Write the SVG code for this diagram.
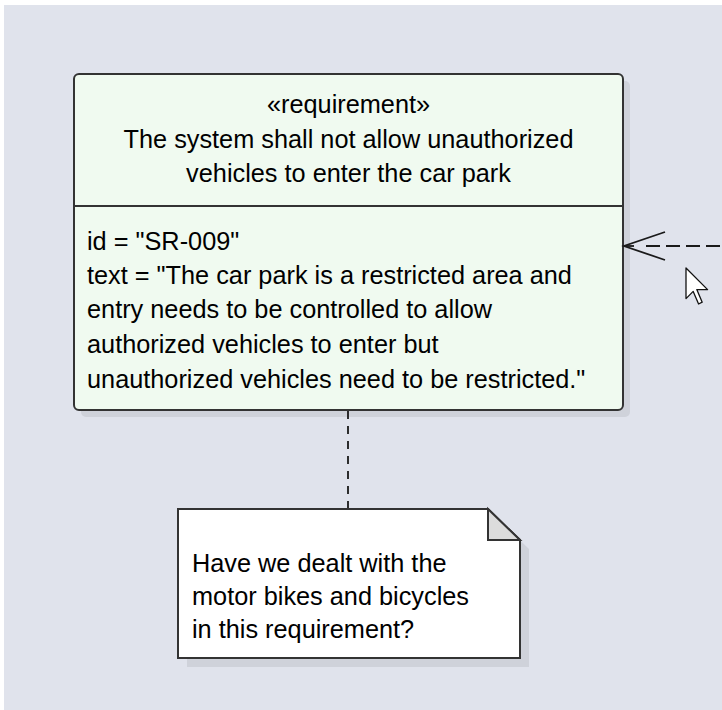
<svg xmlns="http://www.w3.org/2000/svg" width="722" height="710" viewBox="0 0 722 710">
<style>
.t{font-family:"Liberation Sans",Arial,sans-serif;font-size:25.3px;fill:#000}
.c{text-anchor:middle}
.edge{fill:none;stroke:#1a1a1a;stroke-width:1.8}
.shadow{fill:#CFD2DA}
</style>
<rect x="0" y="0" width="722" height="710" fill="#ffffff"/>
<rect x="4" y="5" width="718" height="705" fill="#E0E3EC"/>
<g id="requirement">
<rect class="shadow" x="81" y="81" width="549" height="336" rx="5"/>
<rect x="74" y="74" width="549" height="336" rx="5" fill="#F0FAF0" stroke="#333" stroke-width="2"/>
<line x1="74" y1="206" x2="623" y2="206" stroke="#333" stroke-width="2"/>
<text class="t c" x="348.5" y="113">«requirement»</text>
<text class="t c" x="348.5" y="148">The system shall not allow unauthorized</text>
<text class="t c" x="348.5" y="182">vehicles to enter the car park</text>
<text class="t" x="87" y="250">id = "SR-009"</text>
<text class="t" x="87" y="284">text = "The car park is a restricted area and</text>
<text class="t" x="87" y="318">entry needs to be controlled to allow</text>
<text class="t" x="87" y="353">authorized vehicles to enter but</text>
<text class="t" x="87" y="388">unauthorized vehicles need to be restricted."</text>
</g>
<g id="note">
<polygon class="shadow" points="187,518 497,518 529,549 529,667 187,667"/>
<polygon points="178,509 488,509 520,540 520,658 178,658" fill="#ffffff" stroke="#333" stroke-width="2"/>
<polygon points="488,509 520,540 488,540" fill="#DCDCDC" stroke="#333" stroke-width="2"/>
<text class="t" x="192" y="572">Have we dealt with the</text>
<text class="t" x="192" y="605">motor bikes and bicycles</text>
<text class="t" x="192" y="638">in this requirement?</text>
</g>
<g id="connectors">
<line class="edge" x1="348" y1="411" x2="348" y2="508" stroke-dasharray="8,7"/>
<line class="edge" x1="624" y1="246" x2="634" y2="246"/>
<line class="edge" x1="646" y1="246" x2="722" y2="246" stroke-dasharray="14,6"/>
<polyline class="edge" points="665,232 624,246 665,260" stroke-width="2"/>
</g>
<polygon points="686,268 686,298.6 693.2,291.4 698.6,304 702.2,302.2 696.8,289.6 707.6,289.6" fill="#ffffff" stroke="#111" stroke-width="1.3" stroke-linejoin="round"/>
</svg>
